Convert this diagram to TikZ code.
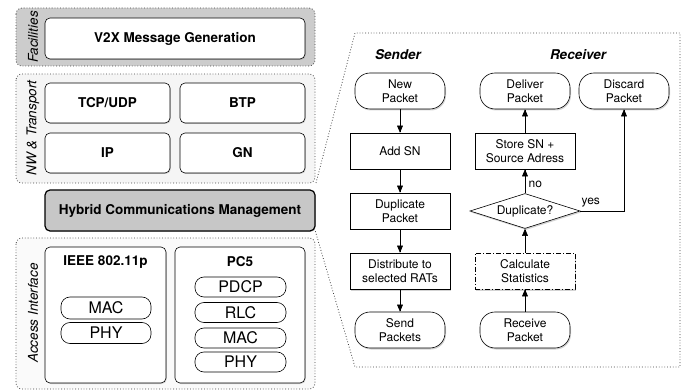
\documentclass[tikz,border=0pt]{standalone}
\usepackage{fontspec}
\setmainfont{TeX Gyre Heros}
\usetikzlibrary{positioning,shapes,shadows,arrows}

\tikzset{
  grp/.style={draw=black!75, dotted, line width=0.8pt, rounded corners=6pt},
  grplabel/.style={rotate=90, font=\itshape\fontsize{13.5}{16}\selectfont},
  layer/.style={draw, line width=0.6pt, rounded corners=5pt, fill=white, inner sep=0pt,
    font=\bfseries\fontsize{13.5}{16}\selectfont,
    drop shadow={shadow xshift=0.8pt, shadow yshift=-1pt, opacity=0.3}},
  sublayer/.style={draw, line width=0.6pt, rounded corners=9pt, fill=white, inner sep=0pt,
    minimum width=91pt, minimum height=20pt, font=\fontsize{16}{18}\selectfont},
  term/.style={draw, line width=0.6pt, rounded corners=15pt, fill=white, inner sep=0pt,
    minimum width=90pt, minimum height=36pt, align=center,
    font=\fontsize{12}{14.3}\selectfont,
    drop shadow={shadow xshift=1pt, shadow yshift=-1.5pt, opacity=0.35}},
  proc/.style={draw, line width=0.6pt, fill=white, inner sep=0pt,
    minimum width=100pt, minimum height=36pt, align=center,
    font=\fontsize{12}{14.3}\selectfont,
    drop shadow={shadow xshift=1pt, shadow yshift=-1.5pt, opacity=0.35}},
  flow/.style={-triangle 45, line width=0.6pt},
  coltitle/.style={font=\bfseries\itshape\fontsize{13.5}{16}\selectfont}
}

\begin{document}
\begin{tikzpicture}[x=1pt,y=-1pt]
  \useasboundingbox (0,0) rectangle (683,390);

  % protocol stack
  \draw[grp, fill=black!20] (16,8) rectangle (315,66);
  \draw[grp, fill=black!4] (16,74) rectangle (315,183);
  \draw[grp, fill=black!2] (16,238) rectangle (315,389);
  \node[grplabel] (lfac) at (33,37) {Facilities};
  \node[grplabel] (lnw) at (33,128) {NW \& Transport};
  \node[grplabel] (lacc) at (33,313) {Access Interface};

  \node[layer, minimum width=260pt, minimum height=41pt] (v2x) at (175,38.5) {V2X Message Generation};
  \node[layer, minimum width=125pt, minimum height=40pt] (tcp) at (107.5,103) {TCP/UDP};
  \node[layer, minimum width=125pt, minimum height=40pt] (btp) at (242.5,103) {BTP};
  \node[layer, minimum width=125pt, minimum height=40pt] (ip) at (107.5,153) {IP};
  \node[layer, minimum width=125pt, minimum height=40pt] (gn) at (242.5,153) {GN};
  \node[layer, minimum width=270pt, minimum height=41pt, fill=black!22, line width=1.2pt] (hcm) at (180,210.5) {Hybrid Communications Management};

  \node[layer, minimum width=121pt, minimum height=136pt] (ieee) at (105.5,315) {};
  \node[layer, minimum width=130pt, minimum height=136pt] (pcfive) at (240,315) {};
  \node[font=\bfseries\fontsize{13.5}{16}\selectfont] (tieee) at (105.5,262) {IEEE 802.11p};
  \node[font=\bfseries\fontsize{13.5}{16}\selectfont] (tpcfive) at (240,262) {PC5};

  \node[sublayer, minimum width=90pt, minimum height=22pt] (macw) at (106,308) {MAC};
  \node[sublayer, minimum width=90pt, minimum height=21pt] (phyw) at (106,333) {PHY};
  \node[sublayer] (pdcp) at (240.5,287) {PDCP};
  \node[sublayer] (rlc) at (240.5,312.5) {RLC};
  \node[sublayer] (macc) at (240.5,338) {MAC};
  \node[sublayer] (phyc) at (240.5,362) {PHY};

  % zoomed panel
  \draw[black!75, dotted, line width=0.8pt] (316,183) -- (355,33) -- (680,33) -- (680,367) -- (355,367) -- (315,230);

  \node[coltitle] (sender) at (398,55) {Sender};
  \node[coltitle] (receiver) at (578,55) {Receiver};

  % sender
  \node[term] (newpkt) at (400,91) {New\\Packet};
  \node[proc] (addsn) at (400,151) {Add SN};
  \node[proc] (duppkt) at (400,211) {Duplicate\\Packet};
  \node[proc] (distr) at (400,271) {Distribute to\\selected RATs};
  \node[term] (sendpkt) at (400,330) {Send\\Packets};

  % receiver
  \node[term] (deliver) at (525,91) {Deliver\\Packet};
  \node[term] (discard) at (624,91) {Discard\\Packet};
  \node[proc] (store) at (525,151) {Store SN +\\Source Adress};
  \node[draw, diamond, aspect=3, line width=0.6pt, fill=white, inner sep=0pt,
    minimum width=110pt, minimum height=35pt, font=\fontsize{12}{14.3}\selectfont,
    drop shadow={shadow xshift=1pt, shadow yshift=-1.5pt, opacity=0.35}] (dupq) at (525,211) {Duplicate?};
  \node[proc, dash pattern=on 5pt off 2pt on 1pt off 2pt] (calc) at (525,271) {Calculate\\Statistics};
  \node[term] (recvpkt) at (525,330) {Receive\\Packet};

  \draw[flow] (newpkt) -- (addsn);
  \draw[flow] (addsn) -- (duppkt);
  \draw[flow] (duppkt) -- (distr);
  \draw[flow] (distr) -- (sendpkt);

  \draw[flow] (recvpkt) -- (calc);
  \draw[flow] (calc) -- (dupq);
  \draw[flow] (dupq) -- node[right, pos=0.35, font=\fontsize{12}{14}\selectfont] {no} (store);
  \draw[flow] (store) -- (deliver);
  \draw[flow] (dupq.east) -| node[above, pos=0.12, font=\fontsize{12}{14}\selectfont] {yes} (discard.south);
\end{tikzpicture}
\end{document}
